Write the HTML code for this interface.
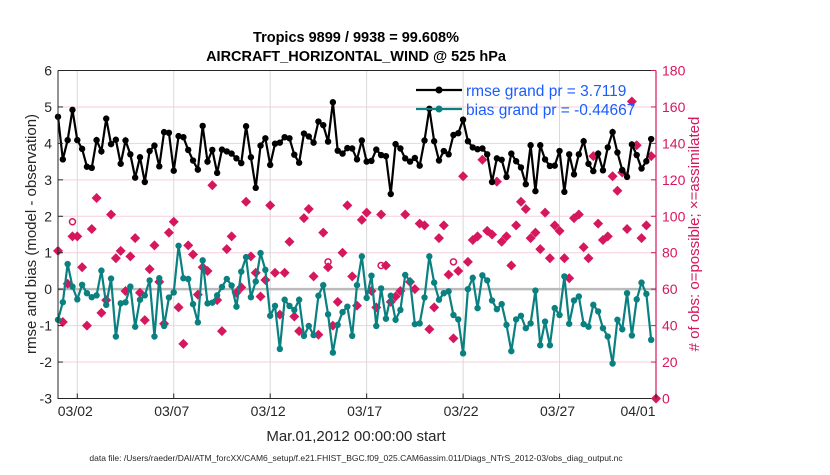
<!DOCTYPE html>
<html><head><meta charset="utf-8"><style>
body{margin:0;background:#fff;}
svg{font-family:"Liberation Sans",sans-serif;}
</style></head><body>
<svg id="chart" width="830" height="470" xmlns="http://www.w3.org/2000/svg"></svg>
<script>
const rmse=[4.73,3.56,4.09,4.92,4.09,3.85,3.36,3.33,4.09,3.78,4.68,3.98,4.1,3.44,4.08,3.7,3.06,3.62,2.94,3.79,3.94,3.37,4.31,4.29,3.25,4.2,4.17,3.82,3.53,3.28,4.48,3.5,3.82,3.19,3.83,3.78,3.72,3.59,3.46,4.47,3.62,2.78,3.94,
4.14,3.41,3.99,4.02,4.17,4.14,3.69,3.47,4.27,4.19,4.02,4.6,4.5,4.05,5.13,3.8,3.72,3.87,3.86,3.56,4.08,3.5,3.52,3.83,3.68,3.65,2.61,3.98,3.86,3.59,3.5,3.6,3.39,4.08,4.95,4.06,3.53,3.79,3.7,
4.23,4.28,4.65,4.06,3.89,3.84,3.86,3.7,2.94,3.59,3.55,3.08,3.72,3.51,3.34,2.88,3.95,2.69,3.95,3.56,3.38,3.39,3.79,2.67,3.7,3.15,3.7,4.06,3.44,3.24,3.72,3.26,3.89,4.31,3.75,3.27,3.08,3.97,3.68,3.31,3.51,4.12];
const bias=[-0.84,-0.36,0.69,0.07,-0.28,0.12,-0.11,-0.22,-0.17,0.51,-0.43,0.29,-1.3,-0.39,-0.36,0.07,-1.03,-0.29,-0.17,0.24,-1.3,0.3,-1.01,-0.23,-0.09,1.19,0.3,0.28,-0.41,-0.91,0.79,-0.39,-0.37,-0.17,0.06,0.28,0.1,-0.48,0.48,0.88,-0.22,0.21,0.99,
0.53,-0.73,-0.46,-1.64,-0.29,-0.46,-0.57,-0.29,-1.28,-1.01,-1.26,-0.18,0.11,-0.69,-1.74,-0.98,-0.63,-0.48,-1.28,0.11,0.9,-0.24,0.37,-1.01,0.02,-0.81,-0.18,-0.84,-0.57,0.39,0.22,-0.96,-0.94,-0.23,0.9,0.18,-0.29,-0.11,-0.06,
-0.71,-0.83,-1.76,0,0.31,-0.52,0.38,0.24,-0.31,-0.55,-0.41,-0.98,-1.7,-0.83,-0.73,-1.07,-0.94,-0.04,-1.54,-0.89,-1.54,-0.52,-0.71,0.35,-0.95,-0.31,-0.2,-0.96,-1.03,-0.43,-0.61,-1.07,-1.3,-2.04,-0.84,-1.1,-0.11,-1.27,-0.28,0.18,-0.13,-1.39];
const nobs=[81,42,63,89,89,72,40,93,110,47,54,101,77,81,59,78,88,58,43,71,84,64,41,91,97,50,30,84,79,57,72,70,117,54,37,82,89,58,61,108,78,69,56,
65,106,69,46,69,86,45,37,99,104,67,35,91,72,40,53,80,106,67,51,98,102,59,50,101,73,53,56,59,101,64,60,96,95,38,50,88,95,68,
33,70,122,75,87,89,131,92,90,119,86,89,73,95,108,104,88,91,82,102,77,95,92,77,66,99,101,83,77,133,96,87,89,122,114,124,93,163,139,88,95,133,0];
const possibleIdx=[3,56,67,82];
const possibleVals=[97,75,73,75];
const yTicksL=[6,5,4,3,2,1,0,-1,-2,-3];
const yTicksR=[0,20,40,60,80,100,120,140,160,180];
const xTickDays=[1,6,11,16,21,26,31];
const xTickLabels=["03/02","03/07","03/12","03/17","03/22","03/27","04/01"];

const NS="http://www.w3.org/2000/svg";
const svg=document.getElementById('chart');
const L=58,R=656,T=70.5,B=398.5;
const xS=d=>L+d*(R-L)/31;
const yL=v=>B-(v+3)*(B-T)/9;
const yR=v=>B-v*(B-T)/180;
const PINK="#d6175e",TEAL="#0a8080";
function mk(t,a,parent){const e=document.createElementNS(NS,t);for(const k in a)e.setAttribute(k,a[k]);(parent||svg).appendChild(e);return e;}

yTicksR.forEach(v=>{const g=mk('line',{x1:L,x2:R,y1:yR(v),y2:yR(v),stroke:'#f6cfdc','stroke-width':1});

});
xTickDays.forEach(d=>{const g=mk('line',{x1:xS(d),x2:xS(d),y1:T,y2:B,stroke:'#d8d8d8','stroke-width':1});

});
const zl=mk('line',{x1:L,x2:R,y1:yL(0),y2:yL(0),stroke:'#bbbbbb','stroke-width':2.5});



nobs.forEach((v,i)=>{const x=xS(i*0.25),y=yR(v);
const p=mk('polygon',{points:`${x},${y-5} ${x+5},${y} ${x},${y+5} ${x-5},${y}`,fill:PINK});

});
possibleIdx.forEach((i,k)=>{const c=mk('circle',{cx:xS(i*0.25),cy:yR(possibleVals[k]),r:3,fill:'none',stroke:PINK,'stroke-width':1.5});

});

function series(arr,col,name){
 const pts=arr.map((v,i)=>xS(i*0.25)+','+yL(v)).join(' ');
 const pl=mk('polyline',{points:pts,fill:'none',stroke:col,'stroke-width':2.2});
 
 
 arr.forEach((v,i)=>{const c=mk('circle',{cx:xS(i*0.25),cy:yL(v),r:3.2,fill:col});
 
 });
}
series(bias,TEAL,'bias');
series(rmse,'#000','rmse');

const ax=mk('path',{d:`M${L},${T}H${R}M${L},${T}V${B}H${R}`,stroke:'#262626','stroke-width':1,fill:'none'});


const rax=mk('line',{x1:R,x2:R,y1:T,y2:B,stroke:PINK,'stroke-width':1.2});


yTicksL.forEach(v=>{mk('line',{x1:L,x2:L+5,y1:yL(v),y2:yL(v),stroke:'#262626'});
const t=mk('text',{x:L-6,y:yL(v)+5,'text-anchor':'end','font-size':14,fill:'#262626'});t.textContent=v;

});
yTicksR.forEach(v=>{mk('line',{x1:R-5,x2:R,y1:yR(v),y2:yR(v),stroke:PINK});
const t=mk('text',{x:R+6,y:yR(v)+5,'font-size':14,fill:PINK});t.textContent=v;

});
xTickDays.forEach((d,i)=>{mk('line',{x1:xS(d),x2:xS(d),y1:B,y2:B-5,stroke:'#262626'});
const xx=i===xTickDays.length-1?xS(d)-18:xS(d)-2;
const t=mk('text',{x:xx,y:416,'text-anchor':'middle','font-size':14,fill:'#262626'});t.textContent=xTickLabels[i];

});
</script>
<svg style="position:absolute;left:0;top:0" width="830" height="470" font-family="Liberation Sans, sans-serif">
<text x="356" y="42" text-anchor="middle" font-size="14.5" font-weight="bold">Tropics 9899 / 9938 = 99.608%</text>
<text x="356" y="61" text-anchor="middle" font-size="14.5" font-weight="bold">AIRCRAFT_HORIZONTAL_WIND @ 525 hPa</text>
<text x="356" y="441" text-anchor="middle" font-size="15" fill="#262626">Mar.01,2012 00:00:00 start</text>
<text x="356" y="461" text-anchor="middle" font-size="8.5" fill="#262626">data file: /Users/raeder/DAI/ATM_forcXX/CAM6_setup/f.e21.FHIST_BGC.f09_025.CAM6assim.011/Diags_NTrS_2012-03/obs_diag_output.nc</text>
<text transform="translate(36,234) rotate(-90)" text-anchor="middle" font-size="15" fill="#262626">rmse and bias (model - observation)</text>
<text transform="translate(699,234) rotate(-90)" text-anchor="middle" font-size="15" fill="#d6175e"># of obs: o=possible; ×=assimilated</text>
<g>
<line x1="416" x2="462" y1="90" y2="90" stroke="#000" stroke-width="2.2"/><circle cx="439" cy="90" r="3.5" fill="#000"/>
<text x="466" y="96" font-size="15.5" fill="#1a5cff">rmse grand pr = 3.7119</text>
<line x1="416" x2="462" y1="109" y2="109" stroke="#0a8080" stroke-width="2.2"/><circle cx="439" cy="109" r="3.5" fill="#0a8080"/>
<text x="466" y="115" font-size="15.5" fill="#1a5cff">bias grand pr = -0.44667</text>
</g>
</svg>
</body></html>
